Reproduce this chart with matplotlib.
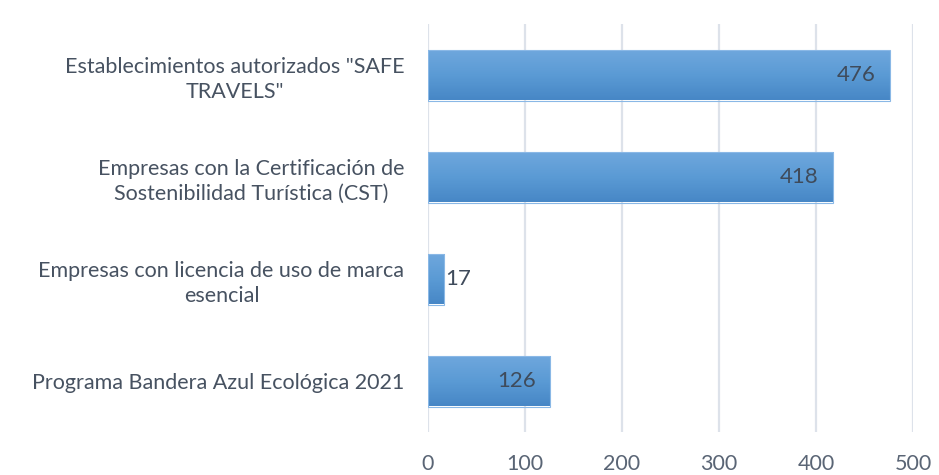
import matplotlib.pyplot as plt
import numpy as np
from matplotlib.colors import LinearSegmentedColormap

categories = [
    'Establecimientos autorizados "SAFE\nTRAVELS"',
    'Empresas con la Certificación de\nSostenibilidad Turística (CST)',
    'Empresas con licencia de uso de marca\nesencial',
    'Programa Bandera Azul Ecológica 2021',
]
values = [476, 418, 17, 126]
xticks = [0, 100, 200, 300, 400, 500]

plt.rcParams['font.family'] = ['Lato', 'DejaVu Sans']
text_color = '#475261'

fig = plt.figure(figsize=(9.39, 4.75), dpi=100)
ax = fig.add_axes([428 / 939, 1 - 432 / 475, 485 / 939, 408 / 475])

# vertical gradient used for each bar (lighter on top)
grad = LinearSegmentedColormap.from_list('bar', ['#6fa7dd', '#5b9bd5', '#4787c6'])
gradient = np.linspace(0, 1, 64).reshape(-1, 1)

ypos = np.arange(len(categories))
height = 0.5
bars = ax.barh(ypos, values, height=height, color='none',
               edgecolor='#8ab8e6', linewidth=0.8, zorder=3)
for bar in bars:
    x0, y0 = bar.get_x(), bar.get_y()
    w, h = bar.get_width(), bar.get_height()
    im = ax.imshow(gradient, cmap=grad, aspect='auto', zorder=2,
                   extent=(x0, x0 + w, y0 + h, y0), interpolation='bicubic')
    im.set_clip_path(bar)

for y, v in zip(ypos, values):
    if v > 60:
        ax.text(v - 15, y, str(v), ha='right', va='center', fontsize=16,
                color='#3f4b5b', zorder=4)
    else:
        ax.text(v + 1, y, str(v), ha='left', va='center', fontsize=16,
                color='#3f4b5b', zorder=4)

ax.set_xlim(0, 500)
ax.set_ylim(3.5, -0.5)
ax.set_xticks(xticks)
ax.set_yticks(ypos)
ax.set_yticklabels(categories, multialignment='center', fontsize=15.5,
                   color=text_color, linespacing=1.3)
ax.tick_params(axis='y', length=0, pad=17)
ax.tick_params(axis='x', length=0, pad=16, labelsize=15.5, labelcolor='#5a6575')
for lab in ax.get_xticklabels():
    lab.set_family(['Liberation Sans Narrow', 'Lato'])
ax.grid(axis='x', color='#dde2ea', linewidth=1.6, zorder=0)
ax.set_axisbelow(True)
for s in ax.spines.values():
    s.set_visible(False)

fig.savefig('out.png', dpi=100, facecolor='white')
